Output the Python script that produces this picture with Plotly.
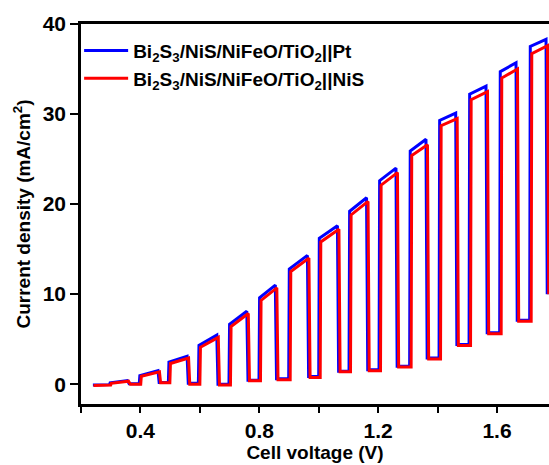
import plotly.graph_objects as go

# ---- data (chopped-light sweep) ----
# red series: Bi2S3/NiS/NiFeO/TiO2||NiS
red_pre_v = [0.242, 0.300, 0.302, 0.360, 0.366]
red_pre_j = [-0.15, -0.10, 0.10, 0.33, 0.0]
red_on_v = [0.403, 0.501, 0.602, 0.705, 0.806, 0.906, 1.007, 1.109, 1.210, 1.313, 1.412, 1.513, 1.616, 1.717]
red_off_v = [0.464, 0.562, 0.662, 0.763, 0.859, 0.967, 1.068, 1.166, 1.265, 1.366, 1.466, 1.568, 1.669, 1.770]
red_start_j = [0.89, 2.3, 4.1, 6.4, 9.3, 12.5, 15.8, 18.8, 22.1, 25.4, 28.7, 31.6, 34.0, 36.7]
red_end_j = [1.37, 2.9, 5.2, 7.85, 10.7, 14.0, 17.2, 20.3, 23.5, 26.6, 29.5, 32.5, 35.0, 37.6]
red_dark_j = [0.0, 0.15, 0.0, -0.1, 0.37, 0.5, 0.75, 1.37, 1.5, 1.9, 2.8, 4.3, 5.6, 7.0, 10.0]

# blue series: Bi2S3/NiS/NiFeO/TiO2||Pt
blue_pre_v = [0.240, 0.296, 0.298, 0.356, 0.362]
blue_pre_j = [-0.1, -0.05, 0.15, 0.40, 0.05]
blue_on_v = [0.398, 0.496, 0.597, 0.700, 0.801, 0.901, 1.002, 1.104, 1.205, 1.308, 1.407, 1.508, 1.611, 1.712]
blue_off_v = [0.459, 0.557, 0.657, 0.758, 0.854, 0.962, 1.063, 1.161, 1.260, 1.361, 1.461, 1.563, 1.664, 1.765]
blue_start_j = [0.95, 2.45, 4.3, 6.65, 9.6, 12.8, 16.2, 19.2, 22.6, 25.9, 29.3, 32.2, 34.7, 37.5]
blue_end_j = [1.5, 3.1, 5.45, 8.1, 11.0, 14.3, 17.6, 20.7, 24.0, 27.2, 30.1, 33.1, 35.7, 38.3]
blue_dark_j = [0.05, 0.2, 0.1, 0.0, 0.45, 0.6, 0.85, 1.45, 1.6, 2.0, 2.9, 4.4, 5.7, 7.1, 10.0]

x_tick_vals = [0.2, 0.4, 0.6, 0.8, 1.0, 1.2, 1.4, 1.6]
x_tick_text = ["", "0.4", "", "0.8", "", "1.2", "", "1.6"]
y_tick_vals = [0, 10, 20, 30, 40]

names = ["Bi<sub>2</sub>S<sub>3</sub>/NiS/NiFeO/TiO<sub>2</sub>||Pt",
         "Bi<sub>2</sub>S<sub>3</sub>/NiS/NiFeO/TiO<sub>2</sub>||NiS"]


def build(pre_v, pre_j, on_v, off_v, s_j, e_j, d_j):
    xs = list(pre_v)
    ys = list(pre_j)
    xs.append(on_v[0] - 0.002)
    ys.append(d_j[0])
    for k in range(len(on_v)):
        xs += [on_v[k], off_v[k]]
        ys += [s_j[k], e_j[k]]
        xs.append(off_v[k] + 0.004)
        ys.append(d_j[k + 1])
        if k + 1 < len(on_v):
            xs.append(on_v[k + 1] - 0.002)
            ys.append(d_j[k + 1])
    return xs, ys


bx, by = build(blue_pre_v, blue_pre_j, blue_on_v, blue_off_v, blue_start_j, blue_end_j, blue_dark_j)
rx, ry = build(red_pre_v, red_pre_j, red_on_v, red_off_v, red_start_j, red_end_j, red_dark_j)

fig = go.Figure()
fig.add_trace(go.Scatter(x=bx, y=by, mode="lines", name=names[0], legendgroup="a",
                         line=dict(color="#0000FF", width=3)))
fig.add_trace(go.Scatter(x=rx, y=ry, mode="lines", name=names[1], legendgroup="b",
                         line=dict(color="#FF0000", width=3)))

fnt = "Liberation Sans, Arial, sans-serif"
fig.update_layout(
    width=549, height=465,
    margin=dict(l=81, r=0, t=24, b=61),
    plot_bgcolor="white", paper_bgcolor="white",
    font=dict(family=fnt, color="black"),
    showlegend=True,
    legend=dict(x=-0.004, y=0.98, xanchor="left", yanchor="top",
                bgcolor="rgba(0,0,0,0)", borderwidth=0,
                font=dict(family=fnt, size=19, color="black", weight="bold"),
                tracegroupgap=0, itemwidth=44),
    xaxis=dict(range=[0.2, 1.775], showgrid=False, zeroline=False,
               showline=True, linecolor="black", linewidth=2.5, mirror=True,
               ticks="outside", ticklen=6, tickwidth=2, tickcolor="black",
               tickvals=x_tick_vals, ticktext=x_tick_text,
               tickfont=dict(family=fnt, size=21, color="black", weight="bold"),
               title=dict(text="Cell voltage (V)", standoff=3,
                          font=dict(family=fnt, size=19, color="black", weight="bold"))),
    yaxis=dict(range=[-2.2, 40], showgrid=False, zeroline=False,
               showline=True, linecolor="black", linewidth=2.5, mirror=False,
               ticks="outside", ticklen=8, tickwidth=2, tickcolor="black",
               tickvals=y_tick_vals,
               tickfont=dict(family=fnt, size=21, color="black", weight="bold"),
               title=dict(text="Current density (mA/cm<sup>2</sup>)", standoff=8,
                          font=dict(family=fnt, size=19, color="black", weight="bold"))),
)

fig.write_html(
    "out.html",
    config={"displayModeBar": False},
    post_script="document.body.style.margin='0';document.body.style.overflow='hidden';",
)
